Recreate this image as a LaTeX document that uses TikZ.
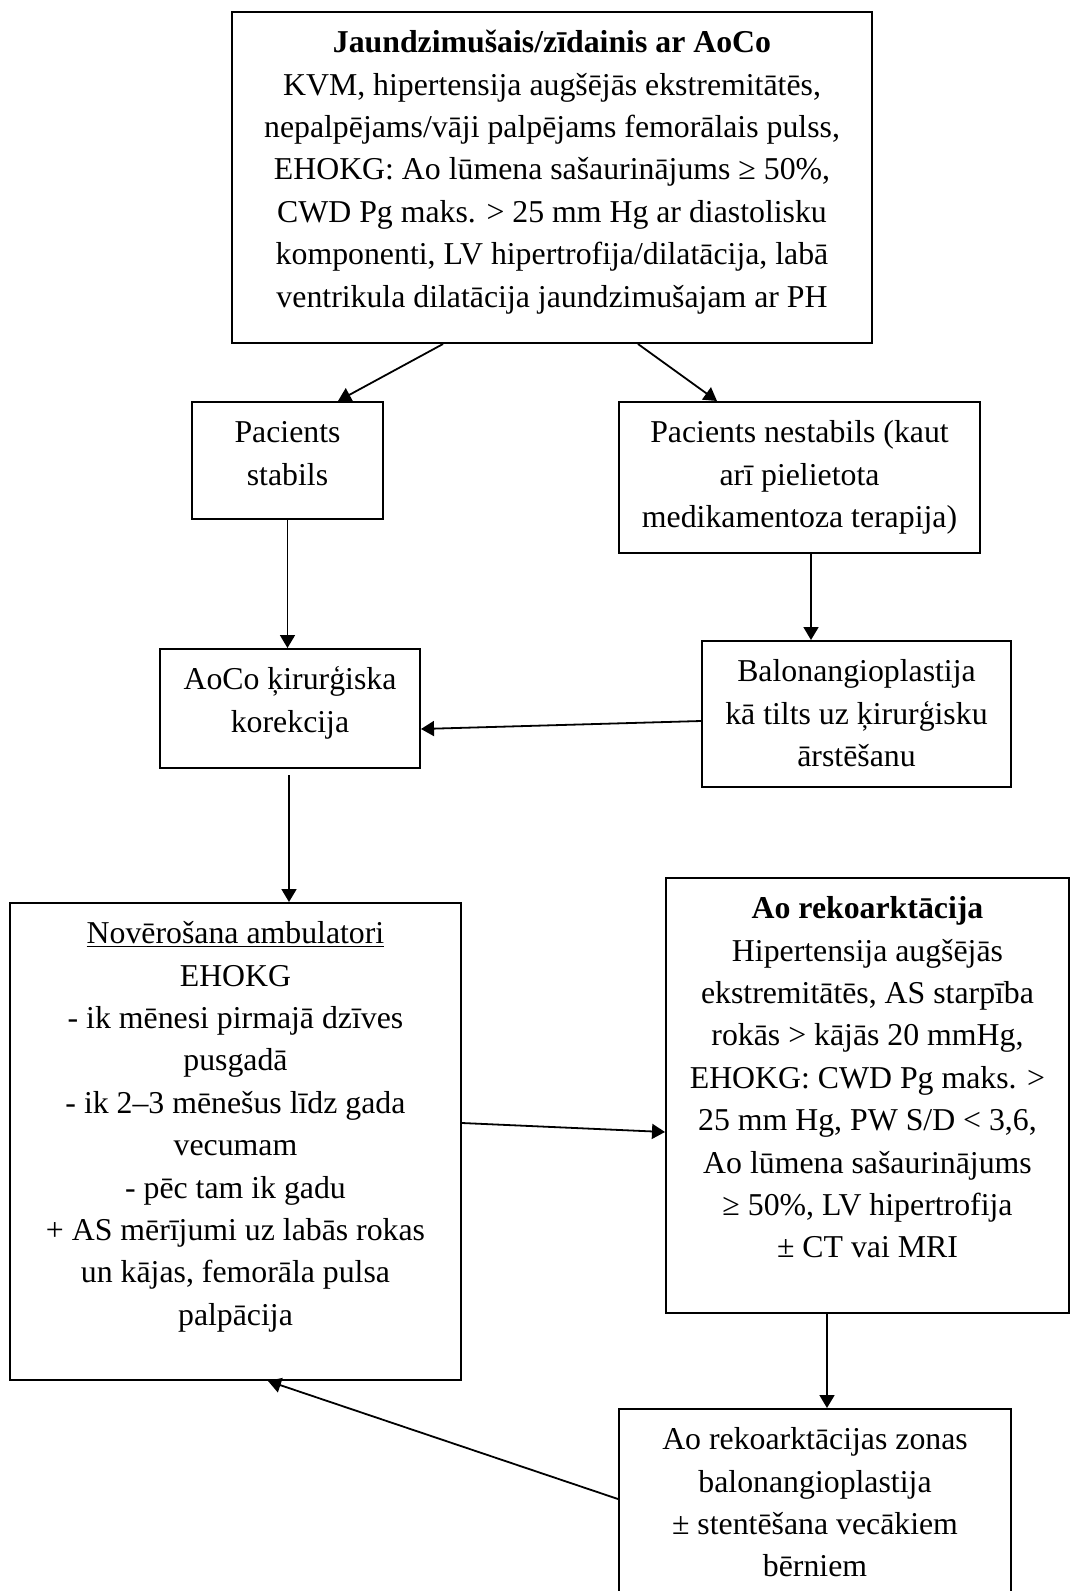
\documentclass[tikz,border=0pt]{standalone}
\usepackage{fontspec}
\setmainfont{Liberation Serif}
\usepackage{tikz}
\usetikzlibrary{arrows.meta}
\newcommand{\boxfont}{\fontsize{15.9}{21.2}\selectfont}
\newcommand{\cell}[3]{\parbox[c][#2][t]{#1}{\centering\vspace*{5.5pt}\strut#3}}
\tikzstyle{block} = [rectangle, draw=black, line width=1pt, inner sep=0pt, font=\boxfont]
\tikzstyle{arrow} = [-{Triangle[length=6.5pt,width=7.5pt]}, line width=0.9pt, black]

\begin{document}
\begin{tikzpicture}[x=0.5pt,y=-0.5pt]
\useasboundingbox (0,0) rectangle (1071,1591);
\node[block] (newborn) at (552,177.5) {\cell{320pt}{165.5pt}{\textbf{Jaundzimušais/zīdainis ar AoCo}\\
  KVM, hipertensija augšējās ekstremitātēs,\\
  nepalpējams/vāji palpējams femorālais pulss,\\
  EHOKG: Ao lūmena sašaurinājums ≥ 50\%,\\
  CWD Pg maks. > 25 mm Hg ar diastolisku\\
  komponenti, LV hipertrofija/dilatācija, labā\\
  ventrikula dilatācija jaundzimušajam ar PH}};
\node[block] (stable) at (287.5,460.5) {\cell{95.5pt}{58.5pt}{Pacients\\ stabils}};
\node[block] (unstable) at (799.5,477.5) {\cell{180.5pt}{75.5pt}{Pacients nestabils (kaut\\ arī pielietota\\ medikamentoza terapija)}};
\node[block] (surgery) at (290,708.5) {\cell{130pt}{59.5pt}{AoCo ķirurģiska\\ korekcija}};
\node[block] (balloon) at (856.5,714) {\cell{154.5pt}{73pt}{Balonangioplastija\\ kā tilts uz ķirurģisku\\ ārstēšanu}};
\node[block] (followup) at (235.5,1141.5) {\cell{225.5pt}{238.5pt}{\underline{Novērošana ambulatori}\\
  EHOKG\\
  - ik mēnesi pirmajā dzīves\\
  pusgadā\\
  - ik 2–3 mēnešus līdz gada\\
  vecumam\\
  - pēc tam ik gadu\\
  + AS mērījumi uz labās rokas\\
  un kājas, femorāla pulsa\\
  palpācija}};
\node[block] (recoarct) at (867.5,1095.5) {\cell{201.5pt}{217.5pt}{\textbf{Ao rekoarktācija}\\
  Hipertensija augšējās\\
  ekstremitātēs, AS starpība\\
  rokās > kājās 20 mmHg,\\
  EHOKG: CWD Pg maks. >\\
  25 mm Hg, PW S/D < 3,6,\\
  Ao lūmena sašaurinājums\\
  ≥ 50\%, LV hipertrofija\\
  ± CT vai MRI}};
\node[block] (stent) at (815,1530) {\cell{196pt}{121pt}{Ao rekoarktācijas zonas\\
  balonangioplastija\\
  ± stentēšana vecākiem\\
  bērniem}};

\draw[arrow] ([xshift=-54.5pt]newborn.south) -- ([xshift=25.25pt]stable.north);
\draw[arrow] ([xshift=43pt]newborn.south) -- ([xshift=-41.25pt]unstable.north);
\draw[arrow] (stable.south) -- (stable.south |- surgery.north);
\draw[arrow] ([xshift=5.75pt]unstable.south) -- ([xshift=-22.75pt]balloon.north);
\draw[arrow] ([yshift=-3.5pt]balloon.west) -- ([yshift=-10.25pt]surgery.east);
\draw[arrow, shorten <=3pt] ([xshift=-0.5pt]surgery.south) -- ([xshift=26.75pt]followup.north);
\draw[arrow] ([yshift=9.25pt]followup.east) -- ([yshift=-18.25pt]recoarct.west);
\draw[arrow] ([xshift=-20.25pt]recoarct.south) -- ([xshift=6pt]stent.north);
\draw[arrow] ([yshift=15.5pt]stent.west) -- ([xshift=16.25pt]followup.south);
\end{tikzpicture}
\end{document}
